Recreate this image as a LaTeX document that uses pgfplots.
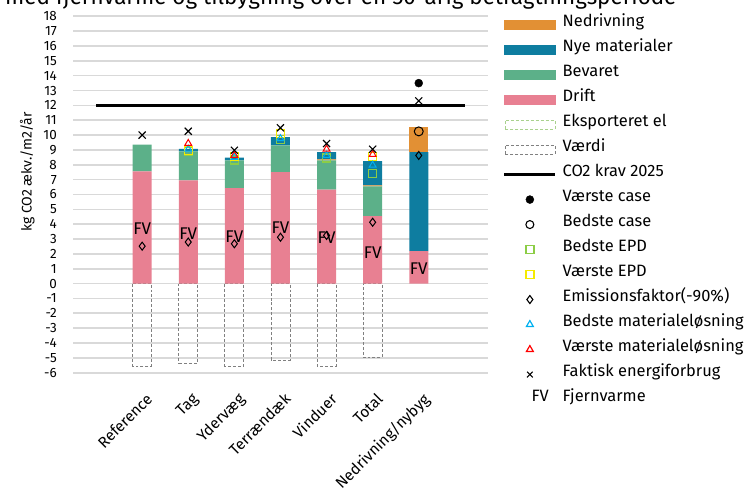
\documentclass[border=0pt]{standalone}
\usepackage{pgfplots}
\pgfplotsset{compat=1.18}
\usepackage{fontspec}
\setmainfont{Fira Sans}
\definecolor{orangeN}{RGB}{226,144,52}
\definecolor{blueN}{RGB}{14,125,160}
\definecolor{greenB}{RGB}{92,176,137}
\definecolor{pinkD}{RGB}{232,128,146}
\definecolor{gridgray}{RGB}{217,217,217}
\definecolor{exportgreen}{RGB}{169,209,142}
\definecolor{matblue}{RGB}{0,176,240}
\definecolor{epdgreen}{RGB}{140,205,70}
\definecolor{epdyellow}{RGB}{245,235,0}
\pgfplotsset{
  base/.style={at={(73bp,121.3bp)}, anchor=south west, x=46.1bp, y=14.85bp,
    xmin=-1.5, xmax=7.5, ymin=-6, ymax=18, clip=false},
  barleg/.style={legend image code/.code={\fill[#1] (0bp,-4.5bp) rectangle (51bp,4.5bp);}},
  boxleg/.style={legend image code/.code={\draw[#1, densely dashed, line width=0.7bp] (0.5bp,-4.5bp) rectangle (50.5bp,4.5bp);}},
  markleg/.style={legend image code/.code={\path (0bp,0bp) (51bp,0bp); \draw[##1] plot[only marks] coordinates {(25.5bp,0bp)};}},
}
\begin{document}
\begin{tikzpicture}
\node[anchor=base west, font=\fontsize{22.5}{26}\selectfont, inner sep=0pt] at (5bp,489bp) {med fjernvarme og tilbygning over en 50-årig betragtningsperiode};
% axis A: grid, ticks, value boxes
\begin{axis}[base, axis line style={draw=none}, major tick length=0pt,
  ytick={-6,-5,...,18}, xtick={0,...,6},
  xticklabels={Reference,Tag,Ydervæg,Terrændæk,Vinduer,Total,Nedrivning/nybyg},
  ymajorgrids, grid style={draw=gridgray, line width=1.6bp},
  /pgf/number format/assume math mode=true,
  yticklabel style={font=\fontsize{13.5}{13.5}\selectfont, anchor=east, inner sep=0pt, xshift=-16bp},
  xticklabel style={font=\fontsize{15.5}{16}\selectfont, xshift=3bp, yshift=-19bp, rotate=45, anchor=north east, inner sep=0pt},
  ylabel={kg CO2 ækv./m2/år},
  ylabel style={at={(-0.11,0.563)}, anchor=center, font=\fontsize{14}{14}\selectfont}]
\addplot[ybar, bar width=19bp, bar shift=0pt, draw=gray, densely dashed, line width=0.8bp, fill=none]
  coordinates {(0,-5.55) (1,-5.35) (2,-5.55) (3,-5.16) (4,-5.55) (5,-4.98)};
\end{axis}
% axis B: stacked bars
\begin{axis}[base, hide axis, ybar stacked, bar width=19bp]
\addplot[fill=pinkD, draw=none] coordinates {(0,7.55) (1,6.95) (2,6.43) (3,7.5) (4,6.32) (5,4.54) (6,2.18)};
\addplot[fill=greenB, draw=none] coordinates {(0,1.8) (1,1.95) (2,1.87) (3,1.8) (4,1.98) (5,2.01) (6,0)};
\addplot[fill=orangeN, draw=none] coordinates {(0,0) (1,0) (2,0) (3,0) (4,0.06) (5,0.06) (6,0)};
\addplot[fill=blueN, draw=none] coordinates {(0,0) (1,0.18) (2,0.18) (3,0.57) (4,0.5) (5,1.64) (6,6.68)};
\addplot[fill=orangeN, draw=none] coordinates {(0,0) (1,0) (2,0) (3,0) (4,0) (5,0) (6,1.68)};
\end{axis}
% axis C: line, markers, legend
\begin{axis}[base, hide axis,
  legend cell align=left,
  legend style={draw=none, fill=none, at={(1.029,1.018)}, anchor=north west,
    font=\fontsize{16.5}{19}\selectfont, row sep=0pt, column sep=6bp,
    nodes={inner sep=0pt, text height=14bp, text depth=11bp}}]
\addlegendimage{barleg=orangeN}\addlegendentry{Nedrivning}
\addlegendimage{barleg=blueN}\addlegendentry{Nye materialer}
\addlegendimage{barleg=greenB}\addlegendentry{Bevaret}
\addlegendimage{barleg=pinkD}\addlegendentry{Drift}
\addlegendimage{boxleg=exportgreen}\addlegendentry{Eksporteret el}
\addlegendimage{boxleg=gray}\addlegendentry{Værdi}
\addlegendimage{legend image code/.code={\draw[black, line width=2.5bp] (0bp,0bp) -- (51bp,0bp);}}\addlegendentry{CO2 krav 2025}
\addlegendimage{markleg, black, mark=*, mark size=4bp}\addlegendentry{Værste case}
\addlegendimage{markleg, black, mark=o, mark size=4bp, line width=1.1bp}\addlegendentry{Bedste case}
\addlegendimage{markleg, draw=epdgreen, color=epdgreen, mark=square, mark size=4bp, line width=1.3bp}\addlegendentry{Bedste EPD}
\addlegendimage{markleg, draw=epdyellow, color=epdyellow, mark=square, mark size=4bp, line width=1.3bp}\addlegendentry{Værste EPD}
\addlegendimage{markleg, black, mark=diamond, mark size=4bp, line width=1.1bp}\addlegendentry{Emissionsfaktor(-90\%)}
\addlegendimage{markleg, matblue, mark=triangle, mark size=4bp, line width=1.2bp}\addlegendentry{Bedste materialeløsning}
\addlegendimage{markleg, red, mark=triangle, mark size=4bp, line width=1.2bp}\addlegendentry{Værste materialeløsning}
\addlegendimage{markleg, black, mark=x, mark size=4bp, line width=1.1bp}\addlegendentry{Faktisk energiforbrug}
\addlegendimage{legend image code/.code={\path (0bp,0bp) (51bp,0bp); \node[inner sep=0pt, font=\fontsize{16.5}{16}\selectfont] at (27bp,0bp) {FV};}}\addlegendentry{Fjernvarme}

\addplot[black, line width=2.5bp, forget plot] coordinates {(-1,12) (7,12)};
\addplot[only marks, mark=none, forget plot, nodes near coords={FV},
  every node near coord/.append style={anchor=center, inner sep=0pt, font=\fontsize{17}{17}\selectfont}]
  coordinates {(0,3.7) (1,3.37) (2,3.14) (3,3.76) (4,3.1) (5,2.1) (6,1.0)};
\addplot[only marks, mark=diamond, black, mark size=4bp, line width=1bp, forget plot]
  coordinates {(0,2.52) (1,2.8) (2,2.68) (3,3.12) (4,3.24) (5,4.13) (6,8.63)};
\addplot[only marks, mark=square, epdgreen, mark size=4bp, line width=1.1bp, forget plot]
  coordinates {(1,8.87) (2,8.32) (3,9.7) (4,8.46) (5,7.44)};
\addplot[only marks, mark=square, epdyellow, mark size=4bp, line width=1.1bp, forget plot]
  coordinates {(1,8.95) (2,8.57) (3,10.1) (5,8.55)};
\addplot[only marks, mark=triangle, matblue, mark size=4bp, line width=1bp, forget plot]
  coordinates {(1,9.05) (2,8.5) (3,9.76) (4,8.64) (5,7.97)};
\addplot[only marks, mark=triangle, red, mark size=4bp, line width=1bp, forget plot]
  coordinates {(1,9.44) (2,8.64) (4,9.05) (5,8.7)};
\addplot[only marks, mark=o, black, mark size=4.5bp, line width=1bp, forget plot]
  coordinates {(6,10.25)};
\addplot[only marks, mark=*, black, mark size=4bp, forget plot]
  coordinates {(6,13.5)};
\addplot[only marks, mark=x, black, mark size=5bp, line width=1.1bp, forget plot]
  coordinates {(0,10.0) (1,10.26) (2,8.98) (3,10.49) (4,9.43) (5,9.05) (6,12.3)};
\end{axis}
\pgfresetboundingbox
\useasboundingbox (0,0) rectangle (753bp,494bp);
\end{tikzpicture}
\end{document}
